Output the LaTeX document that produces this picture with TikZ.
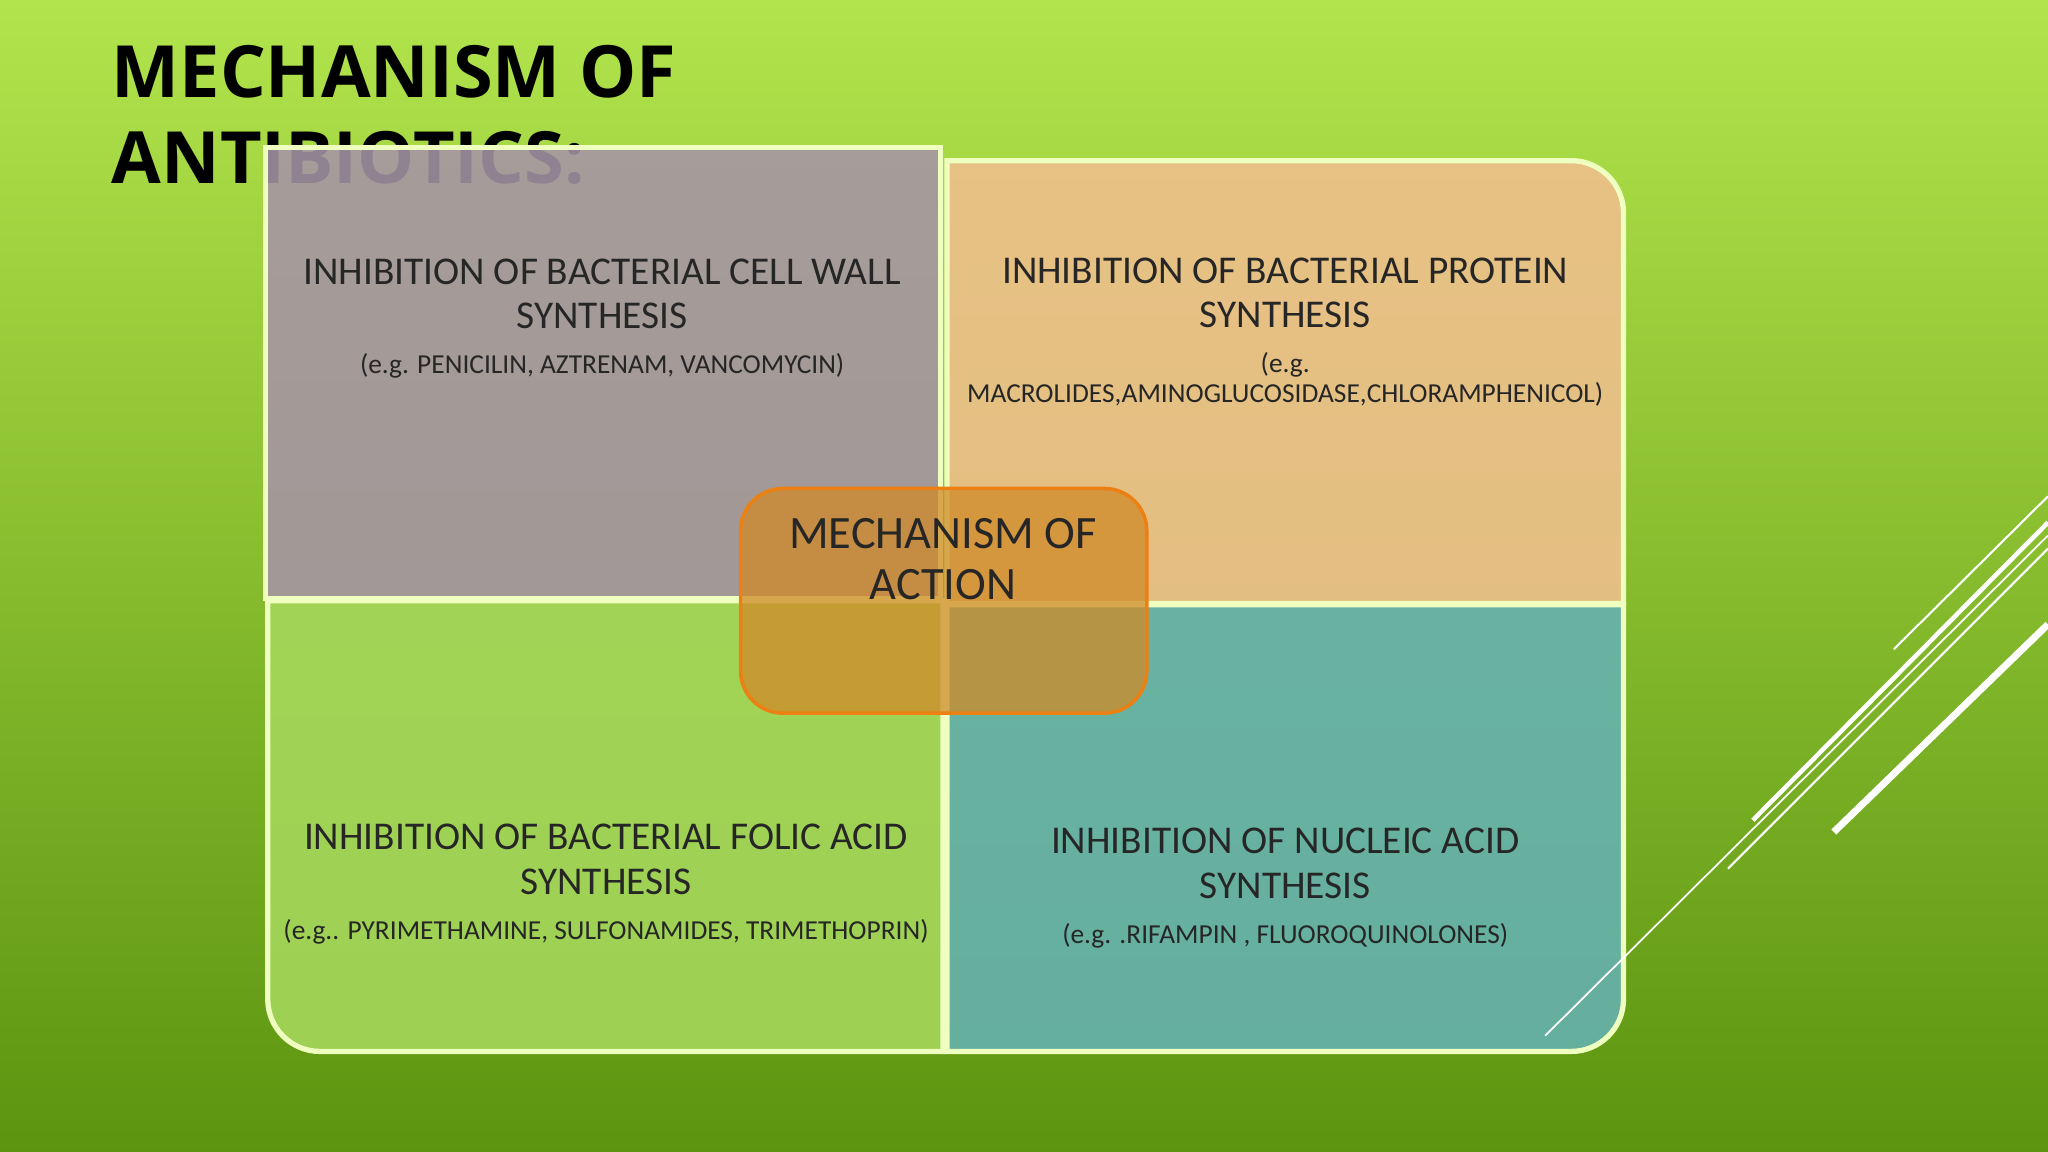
\documentclass[tikz,border=0pt]{standalone}
\usepackage{fontspec}
\setmainfont{Carlito}
\newfontfamily\titlefont{Open Sans}
\usetikzlibrary{positioning}
\definecolor{bgtop}{HTML}{B2E44C}
\definecolor{bgbot}{HTML}{5C9410}
\definecolor{folicgreen}{HTML}{A6D85C}
\definecolor{hubfill}{HTML}{D08A28}

\begin{document}
\begin{tikzpicture}
  [x=0.013061cm,y=-0.013061cm,
  quad/.style={draw=white!75!lime,line width=1.5pt,fill opacity=0.88},
  head/.style={align=center,font=\fontsize{11.2}{12.6}\selectfont,text=black!85},
  eg/.style={align=center,font=\fontsize{7.8}{8.4}\selectfont,text=black!85},
  hub/.style={rectangle,rounded corners=12pt,fill=hubfill,fill opacity=0.75,draw=orange!70!brown,line width=1pt},
  deco/.style={white,line width=1.3pt}]

% background
\shade[top color=bgtop, bottom color=bgbot] (0,0) rectangle (1568,882);
\useasboundingbox (0,0) rectangle (1568,882);

% title
\node[anchor=north west,align=left,inner sep=0pt,font=\titlefont\fontsize{20.5}{24.5}\selectfont\bfseries] (title) at (85,34) {MECHANISM OF\\ANTIBIOTICS:};

% quadrants
\fill[quad,fill=gray!80!violet!70!white] (203,113) -- (720,113) -- (720,458) -- (203,458) -- cycle;
\fill[quad,fill=brown!45!orange!50!white] (725,123) -- (1203,123) arc[start angle=-90,end angle=0,radius=40] -- (1243,462) -- (725,462) -- cycle;
\fill[quad,fill=folicgreen] (205,460) -- (722,460) -- (722,805) -- (245,805) arc[start angle=90,end angle=180,radius=40] -- cycle;
\fill[quad,fill=teal!60!white] (725,463) -- (1243,463) -- (1243,765) arc[start angle=0,end angle=90,radius=40] -- (725,805) -- cycle;

% texts
\node[head] (wall) at (461,225) {INHIBITION OF BACTERIAL CELL WALL\\SYNTHESIS};
\node[eg] (wall-eg) [below=0pt of wall] {(e.g. PENICILIN, AZTRENAM, VANCOMYCIN)};
\node[head] (protein) at (984,224) {INHIBITION OF BACTERIAL PROTEIN\\SYNTHESIS};
\node[eg] (protein-eg) [below=0pt of protein] {(e.g.\\MACROLIDES,AMINOGLUCOSIDASE,CHLORAMPHENICOL)};
\node[head] (folic) at (464,658) {INHIBITION OF BACTERIAL FOLIC ACID\\SYNTHESIS};
\node[eg] (folic-eg) [below=0pt of folic] {(e.g.. PYRIMETHAMINE, SULFONAMIDES, TRIMETHOPRIN)};
\node[head] (nucleic) at (984,661) {INHIBITION OF NUCLEIC ACID\\SYNTHESIS};
\node[eg] (nucleic-eg) [below=0pt of nucleic] {(e.g. .RIFAMPIN , FLUOROQUINOLONES)};

% centre
\fill[hub] (567,374) rectangle (878,546);
\node[head,font=\fontsize{13.2}{14.5}\selectfont] (moa) at (722,428) {MECHANISM OF\\ACTION};

% decoration lines
\draw[deco] (1342,628) -- (1568,400);
\draw[deco,line width=2pt] (1404,637) -- (1568,478);
\draw[deco,line width=0.6pt] (1323,665) -- (1568,420);
\draw[deco,line width=0.6pt] (1450,497) -- (1568,380);
\draw[deco,line width=0.5pt] (1183,793) -- (1568,410);
\end{tikzpicture}
\end{document}
